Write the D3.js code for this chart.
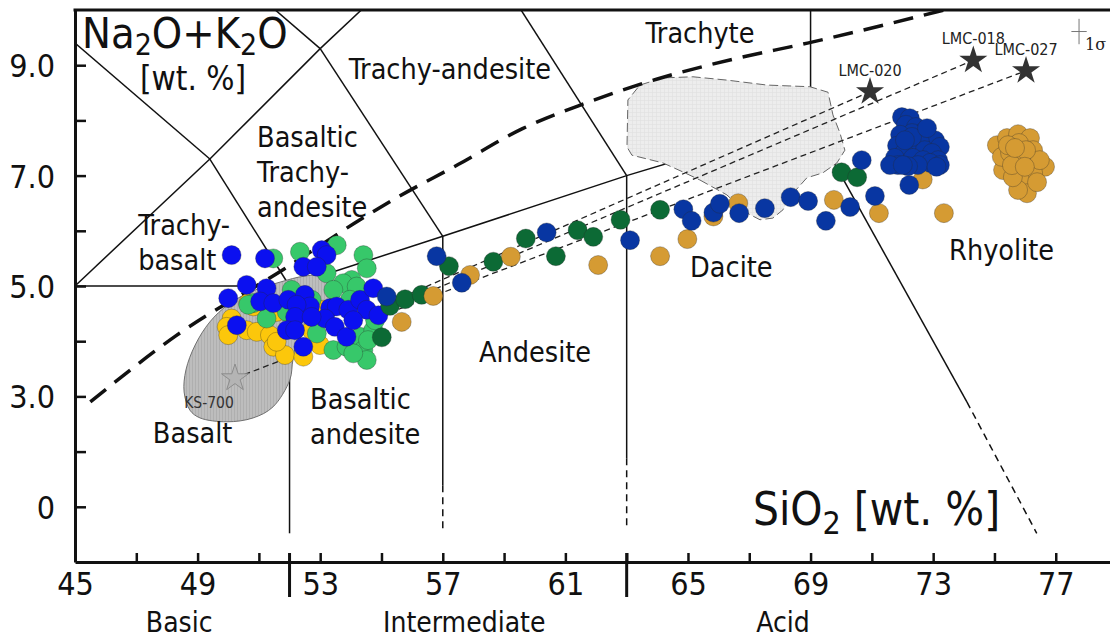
<!DOCTYPE html>
<html>
<head>
<meta charset="utf-8">
<script src="https://cdn.jsdelivr.net/npm/d3@7"></script>
<style>
  html, body { margin: 0; padding: 0; background: #fff; }
  svg text { font-family: "DejaVu Sans Condensed", "DejaVu Sans", sans-serif; font-stretch: condensed; fill: #111; }
</style>
</head>
<body>
<svg id="chart" width="1110" height="639"></svg>
<script>
// ---------- Data: [SiO2, Na2O+K2O] in wt.% ----------
const basaltYellow = [
  [50.65,4.69],[50.11,4.41],[49.95,4.26],[50.60,4.20],[50.93,4.17],[51.36,4.11],[51.47,3.90],[51.85,3.75],
  [51.58,3.99],[52.45,3.72],[52.99,3.93],[53.10,4.57],[52.72,4.20],[51.58,4.53],[50.00,4.11],[50.82,4.63]
];
const basaltGreen = [
  [51.47,5.50],[52.34,5.62],[53.54,5.74],[53.21,5.23],[54.41,5.56],[54.52,5.32],[54.03,5.11],[53.75,5.05],
  [54.19,4.99],[53.43,4.93],[50.82,4.69],[51.25,4.41],[52.07,4.93],[52.89,4.14],[53.43,3.84],[53.86,3.90],
  [54.30,4.08],[54.41,3.84],[54.52,3.66],[54.08,3.78],[54.73,4.20],[52.72,4.75],[51.91,4.53],[50.65,4.66],
  [54.79,4.38],[53.97,4.75],[54.56,4.02]
];
const basaltBlue = [
  [50.11,5.56],[51.20,5.50],[53.05,5.65],[53.21,5.56],[52.45,5.35],[52.89,5.35],[50.60,5.02],[51.25,4.96],
  [50.00,4.78],[51.04,4.72],[51.47,4.69],[51.96,4.75],[52.50,4.84],[52.67,4.63],[52.23,4.66],[50.28,4.29],
  [52.18,4.44],[51.91,4.20],[52.18,4.20],[52.45,3.90],[53.32,4.60],[53.54,4.63],[53.16,4.41],[53.48,4.26],
  [53.86,4.08],[53.92,4.57],[54.30,4.75],[54.73,4.96],[54.52,4.57],[54.90,4.47],[54.08,4.38],[52.72,4.44]
];
const seriesDarkGreen = [
  [55.01,4.07],[55.28,4.64],[55.77,4.76],[56.31,4.84],[57.20,5.36],[58.65,5.44],[59.71,5.86],[60.69,5.54],
  [61.40,6.01],[61.91,5.89],[62.80,6.20],[64.09,6.38],[70.01,7.06],[70.52,6.97]
];
const seriesOchre = [
  [55.66,4.35],[56.69,4.82],[57.89,5.20],[59.22,5.53],[62.07,5.38],[64.09,5.54],[64.98,5.85],[65.83,6.26],
  [66.64,6.50],[69.76,6.56],[71.23,6.32],[72.66,6.93],[73.35,6.32]
];
const rhyoliteOchre = [
  [75.08,7.55],[75.41,7.68],[75.77,7.75],[76.16,7.68],[76.26,7.46],[76.65,7.16],[76.26,7.05],[75.83,6.92],
  [76.06,6.68],[75.77,6.74],[75.28,7.10],[75.24,7.34],[75.51,7.41],[75.80,7.59],[75.90,7.28],[75.60,6.97],
  [76.48,7.28],[76.03,7.46],[75.57,7.19],[75.44,7.55],[75.99,7.16],[75.67,7.50],[76.39,6.88]
];
const seriesDarkBlue = [
  [55.17,4.81],[56.80,5.54],[57.62,5.06],[60.39,5.97],[63.11,5.83],[64.85,6.39],[65.12,6.18],[65.83,6.33],
  [66.04,6.49],[66.67,6.32],[67.51,6.41],[68.35,6.61],[68.92,6.54],[69.50,6.18],[70.29,6.43],[70.67,7.28],
  [71.10,6.63],[72.22,6.83]
];
const rhyoliteDarkBlue = [
  [71.98,8.06],[72.24,8.04],[72.11,7.92],[72.44,7.88],[72.63,7.77],[72.31,7.77],[71.92,7.74],[72.83,7.68],
  [73.06,7.64],[72.57,7.61],[72.18,7.59],[71.82,7.54],[72.41,7.46],[72.73,7.46],[73.22,7.52],[72.96,7.41],
  [72.05,7.41],[71.75,7.32],[72.34,7.32],[72.67,7.28],[73.16,7.28],[72.90,7.23],[72.50,7.19],[71.85,7.19],
  [72.18,7.17],[73.22,7.19],[72.31,7.70],[72.80,7.86],[72.08,7.64],[71.59,7.19],[72.01,7.19],[73.11,7.16]
];

// Reference samples (stars) and the tie lines leading to them
const starNames = ["LMC-020", "LMC-018", "LMC-027"];
const starSiO2  = [70.94, 74.31, 76.03];
const starAlk   = [8.52, 9.09, 8.90];
const tieStartSiO2 = [54.95, 54.95, 54.95];
const tieStartAlk  = [4.62, 4.52, 4.45];
const ksName = "KS-700";
const ksPoint = [50.22, 3.33];
const ksTieEnd = [51.62, 3.63];

// Analytical uncertainty (1 sigma) cross
const sigmaCenter = [77.76, 9.61];
const sigmaSiO2 = 0.25, sigmaAlk = 0.23;

// Shaded compositional fields
const maficField = [
  [48.56,3.08],[48.62,3.48],[48.92,3.93],[49.40,4.35],[49.99,4.66],[50.71,4.89],[51.69,5.07],[52.50,5.18],
  [53.16,5.18],[53.58,4.93],[52.99,4.35],[52.28,4.02],[52.11,3.66],[52.01,3.30],[51.46,2.81],[50.81,2.61],
  [49.96,2.54],[49.08,2.61],[48.75,2.75]
];
const felsicField = [
  [65.39,6.92],[66.27,6.65],[66.86,6.34],[67.35,6.20],[67.77,6.23],[68.10,6.38],[68.33,6.62],[68.88,6.96],
  [69.40,7.05],[69.86,7.23],[70.12,7.46],[69.96,7.77],[69.73,8.10],[69.57,8.51],[68.98,8.61],[67.58,8.64],
  [66.27,8.73],[65.16,8.79],[64.18,8.77],[63.43,8.64],[63.04,8.37],[63.01,7.52],[63.17,7.37],[64.18,7.23],
  [64.90,7.05]
];

// TAS (Le Bas et al.) field boundaries
const tasSolid = [
  [[45,9.4],[49.4,7.3]], [[45,5],[49.4,7.3]], [[49.4,7.3],[52,5]], [[49.4,7.3],[53,9.3]],
  [[53,9.3],[48.4,11.5]], [[53,9.3],[57.6,11.7]], [[53,9.3],[57,5.9]], [[57.6,11.7],[63,7]],
  [[45,5],[52,5]], [[52,5],[57,5.9]], [[57,5.9],[63,7]], [[63,7],[69,8]], [[69,8],[69,12]],
  [[52,5],[52,0.52]], [[57,5.9],[57,1.39]], [[63,7],[63,1.88]], [[69,8],[74.1,2.9]]
];
const tasDashed = [
  [[57,1.39],[57,0.6]], [[63,1.88],[63,0.58]], [[74.1,2.9],[76.38,0.52]]
];
// Alkaline / subalkaline divide
const alkalineDivide = [
  [45.5,2.9],[48.3,4.1],[51.8,5.3],[54.3,6.2],[55.5,6.6],[57.5,7.2],[59.6,7.85],[61.6,8.3],
  [64.0,8.75],[66.4,9.1],[68.9,9.4],[73.5,10.02]
];

// Axis ticks
const xTickValues = d3.range(45, 78, 2);
const xLabelValues = [45, 49, 53, 57, 61, 65, 69, 73, 77];
const yTickValues = d3.range(1, 10, 1);
const yLabelValues = [1, 3, 5, 7, 9];
const yTickLabels = ["0", "3.0", "5.0", "7.0", "9.0"];
const divisionTicks = [52, 63];
const divisionNames = ["Basic", "Intermediate", "Acid"];
const divisionLabelSiO2 = [48.4, 57.7, 68.1];

// Rock-name labels: [text lines, SiO2, alkali of first baseline, anchor]
const rockLabels = [
  [["Trachyte"], 65.39, 9.40, "middle"],
  [["Trachy-andesite"], 57.23, 8.75, "middle"],
  [["Basaltic", "Trachy-", "andesite"], 50.94, 7.52, "start"],
  [["Trachy-", "basalt"], 47.06, 5.92, "start"],
  [["Basalt"], 47.54, 2.16, "start"],
  [["Basaltic", "andesite"], 52.67, 2.78, "start"],
  [["Andesite"], 58.18, 3.63, "start"],
  [["Dacite"], 65.07, 5.16, "start"],
  [["Rhyolite"], 73.52, 5.48, "start"]
];

// ---------- Scales ----------
const svg = d3.select("#chart");
const x = d3.scaleLinear().domain([45, 78.77]).range([75, 1110]);
const y = d3.scaleLinear().domain([0, 10]).range([562, 10]);

const defs = svg.append("defs");
defs.append("clipPath").attr("id", "plotClip")
  .append("rect").attr("x", x(45)).attr("y", y(10)).attr("width", x(78.77) - x(45)).attr("height", y(0) - y(10));

// textures for the shaded fields
const pMafic = defs.append("pattern").attr("id", "maficTex").attr("width", 3).attr("height", 3).attr("patternUnits", "userSpaceOnUse");
pMafic.append("rect").attr("width", 3).attr("height", 3).attr("fill", "#bdbdbd");
pMafic.append("rect").attr("width", 1).attr("height", 3).attr("fill", "#afafaf");
const pFelsic = defs.append("pattern").attr("id", "felsicTex").attr("width", 4).attr("height", 4).attr("patternUnits", "userSpaceOnUse");
pFelsic.append("rect").attr("width", 4).attr("height", 4).attr("fill", "#ededed");
pFelsic.append("rect").attr("width", 4).attr("height", 0.6).attr("fill", "#e0e0e0");
pFelsic.append("rect").attr("width", 0.6).attr("height", 4).attr("fill", "#e0e0e0");

const plot = svg.append("g").attr("clip-path", "url(#plotClip)");

// ---------- TAS boundaries ----------
const seg = d3.line().x(d => x(d[0])).y(d => y(d[1]));
plot.append("g").selectAll("path").data(tasSolid).join("path")
  .attr("d", seg).attr("fill", "none").attr("stroke", "#111").attr("stroke-width", 1.5);
plot.append("g").selectAll("path").data(tasDashed).join("path")
  .attr("d", seg).attr("fill", "none").attr("stroke", "#111").attr("stroke-width", 1.5)
  .attr("stroke-dasharray", "7,5");

// ---------- Shaded fields ----------
const blob = d3.line().x(d => x(d[0])).y(d => y(d[1])).curve(d3.curveCatmullRomClosed.alpha(0.5));
plot.append("path").datum(maficField).attr("d", blob)
  .attr("fill", "url(#maficTex)").attr("stroke", "#707070").attr("stroke-width", 1);
plot.append("path").datum(felsicField).attr("d", d3.line().x(d => x(d[0])).y(d => y(d[1])).curve(d3.curveLinearClosed))
  .attr("fill", "url(#felsicTex)").attr("stroke", "#666").attr("stroke-width", 1).attr("stroke-dasharray", "9,4");

// ---------- Alkaline divide ----------
plot.append("path").datum(alkalineDivide)
  .attr("d", d3.line().x(d => x(d[0])).y(d => y(d[1])).curve(d3.curveMonotoneX))
  .attr("fill", "none").attr("stroke", "#111").attr("stroke-width", 3.5).attr("stroke-dasharray", "20,11");

// ---------- Tie lines ----------
const ties = starNames.map((n, i) => [[tieStartSiO2[i], tieStartAlk[i]], [starSiO2[i], starAlk[i]]]);
ties.push([ksPoint, ksTieEnd]);
plot.append("g").selectAll("path").data(ties).join("path")
  .attr("d", seg).attr("fill", "none").attr("stroke", "#222").attr("stroke-width", 1.3)
  .attr("stroke-dasharray", "6,4");

// ---------- Samples ----------
const groups = [
  [basaltYellow, "#fcc70b"],
  [basaltGreen, "#37c86a"],
  [basaltBlue, "#0b10f0"],
  [seriesDarkGreen, "#0c6a35"],
  [seriesOchre, "#d59b33"],
  [rhyoliteOchre, "#d59b33"],
  [seriesDarkBlue, "#0836a2"],
  [rhyoliteDarkBlue, "#0836a2"]
];
groups.forEach(([data, color]) => {
  plot.append("g").selectAll("circle").data(data).join("circle")
    .attr("cx", d => x(d[0])).attr("cy", d => y(d[1])).attr("r", 9.5)
    .attr("fill", color).attr("stroke", "rgba(40,40,40,0.45)").attr("stroke-width", 0.7);
});

// ---------- Stars ----------
const starPath = d3.symbol(d3.symbolStar, 245)();
plot.append("path").attr("d", d3.symbol(d3.symbolStar, 225)())
  .attr("transform", `translate(${x(ksPoint[0])},${y(ksPoint[1])})`)
  .attr("fill", "#b4b4b4").attr("stroke", "#8c8c8c").attr("stroke-width", 1);
svg.append("text").attr("x", x(ksPoint[0]) - 26).attr("y", y(ksPoint[1]) + 30)
  .attr("text-anchor", "middle").attr("font-size", 15.5).style("fill", "#333").text(ksName);

starNames.forEach((n, i) => {
  plot.append("path").attr("d", starPath)
    .attr("transform", `translate(${x(starSiO2[i])},${y(starAlk[i])})`).attr("fill", "#333");
  svg.append("text").attr("x", x(starSiO2[i])).attr("y", y(starAlk[i]) - 16)
    .attr("text-anchor", "middle").attr("font-size", 16).style("fill", "#222").text(n);
});

// 1 sigma cross
const sg = svg.append("g").attr("stroke", "#777").attr("stroke-width", 1);
sg.append("line").attr("x1", x(sigmaCenter[0] - sigmaSiO2)).attr("x2", x(sigmaCenter[0] + sigmaSiO2))
  .attr("y1", y(sigmaCenter[1])).attr("y2", y(sigmaCenter[1]));
sg.append("line").attr("x1", x(sigmaCenter[0])).attr("x2", x(sigmaCenter[0]))
  .attr("y1", y(sigmaCenter[1] - sigmaAlk)).attr("y2", y(sigmaCenter[1] + sigmaAlk));
svg.append("text").attr("x", x(sigmaCenter[0]) + 6).attr("y", y(sigmaCenter[1]) + 18)
  .attr("font-size", 16).style("font-family", "'DejaVu Serif', serif").style("font-stretch", "normal").style("fill", "#222")
  .text("1σ");

// ---------- Rock names ----------
rockLabels.forEach(([lines, si, alk, anchor]) => {
  const t = svg.append("text").attr("x", x(si)).attr("y", y(alk))
    .attr("text-anchor", anchor).attr("font-size", 28.5);
  lines.forEach((s, k) => t.append("tspan").attr("x", x(si)).attr("dy", k === 0 ? 0 : 35).text(s));
});

// ---------- Axes ----------
const xAxis = d3.axisBottom(x).tickValues(xTickValues).tickSizeInner(-9).tickSizeOuter(0).tickPadding(10)
  .tickFormat(d => xLabelValues.includes(d) ? String(d) : "");
const gx = svg.append("g").attr("transform", `translate(0,${y(0)})`).call(xAxis);
const yAxis = d3.axisLeft(y).tickValues(yTickValues).tickSizeInner(-11).tickSizeOuter(0).tickPadding(20)
  .tickFormat(d => { const k = yLabelValues.indexOf(d); return k >= 0 ? yTickLabels[k] : ""; });
const gy = svg.append("g").attr("transform", `translate(${x(45)},0)`).call(yAxis);
[gx, gy].forEach(g => {
  g.attr("font-family", null);
  g.select(".domain").attr("stroke", "#111").attr("stroke-width", 3);
  g.selectAll(".tick line").attr("stroke", "#111").attr("stroke-width", 2.5);
  g.selectAll(".tick text").attr("font-size", 32).style("fill", "#111");
});
gy.selectAll(".tick text").attr("dy", "0.36em");

// top frame
svg.append("line").attr("x1", x(45) - 1.5).attr("x2", x(78.77)).attr("y1", y(10)).attr("y2", y(10))
  .attr("stroke", "#111").attr("stroke-width", 3);

// Basic / Intermediate / Acid dividers
svg.append("g").selectAll("line").data(divisionTicks).join("line")
  .attr("x1", d => x(d)).attr("x2", d => x(d)).attr("y1", y(0) - 9).attr("y2", y(0) + 35)
  .attr("stroke", "#111").attr("stroke-width", 3);
svg.append("g").selectAll("text").data(divisionNames).join("text")
  .attr("x", (d, i) => x(divisionLabelSiO2[i])).attr("y", y(0) + 70)
  .attr("text-anchor", "middle").attr("font-size", 28).text(d => d);

// ---------- Axis titles ----------
const yt = svg.append("text").attr("x", x(45.23)).attr("y", y(9.31)).attr("font-size", 43);
yt.append("tspan").text("Na");
yt.append("tspan").attr("font-size", 30).attr("dy", 7).text("2");
yt.append("tspan").attr("dy", -7).text("O+K");
yt.append("tspan").attr("font-size", 30).attr("dy", 7).text("2");
yt.append("tspan").attr("dy", -7).text("O");
svg.append("text").attr("x", x(47.12)).attr("y", y(8.55)).attr("font-size", 33).text("[wt. %]");

const xt = svg.append("text").attr("x", x(67.12)).attr("y", y(0.67)).attr("font-size", 45.5);
xt.append("tspan").text("SiO");
xt.append("tspan").attr("font-size", 32).attr("dy", 9).text("2");
xt.append("tspan").attr("dy", -9).text(" [wt. %]");
</script>
</body>
</html>
